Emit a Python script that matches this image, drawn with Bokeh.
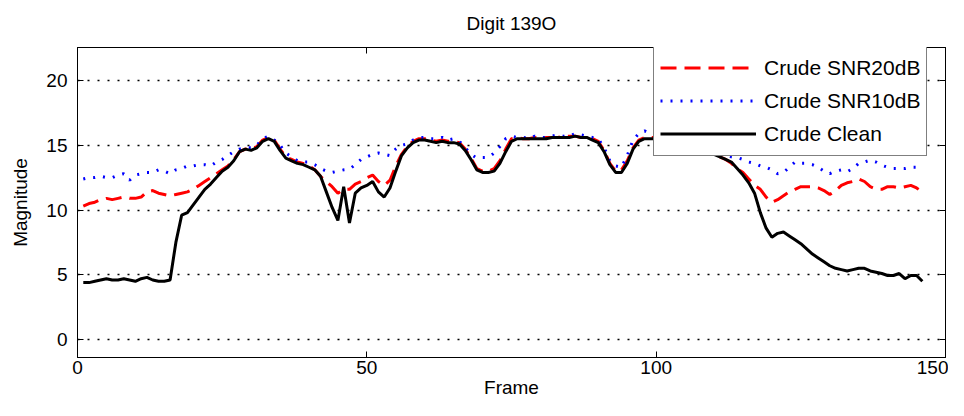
from bokeh.plotting import figure
from bokeh.models import Range1d, LinearAxis, Legend, LegendItem, FixedTicker
from bokeh.embed import file_html
from bokeh.resources import INLINE

title_text = "Digit 139O"
x_label = "Frame"
y_label = "Magnitude"
x_ticks = [0, 50, 100, 150]
y_ticks = [0, 5, 10, 15, 20]
series_names = ["Crude SNR20dB", "Crude SNR10dB", "Crude Clean"]

frames = list(range(1, 147))

snr20 = [
    10.3, 10.5, 10.6, 10.8, 10.9, 10.8, 10.9, 11.0, 10.9, 10.9,
    11.0, 11.4, 11.5, 11.3, 11.2, 11.1, 11.2, 11.3, 11.4, 11.6,
    11.9, 12.2, 12.5, 12.8, 13.1, 13.4, 13.9, 14.5, 14.7, 14.7,
    14.9, 15.4, 15.6, 15.4, 14.7, 14.1, 13.9, 13.7, 13.6, 13.4,
    13.1, 12.6, 12.2, 11.8, 11.3, 11.6, 11.6, 12.0, 12.2, 12.5,
    12.7, 12.2, 11.9, 12.3, 13.4, 14.3, 14.9, 15.3, 15.5, 15.5,
    15.4, 15.3, 15.4, 15.3, 15.3, 15.2, 14.7, 14.0, 13.2, 13.0,
    13.0, 13.2, 13.8, 14.7, 15.5, 15.6, 15.5, 15.5, 15.6, 15.5,
    15.6, 15.6, 15.6, 15.7, 15.7, 15.7, 15.6, 15.6, 15.5, 15.3,
    14.6, 13.6, 13.0, 13.1, 13.8, 14.8, 15.4, 15.6, 15.6, 15.6,
    15.6, 15.5, 15.5, 15.4, 15.3, 15.2, 15.0, 14.7, 14.5, 14.3,
    14.1, 13.9, 13.6, 13.2, 12.9, 12.4, 11.9, 11.6, 11.0, 10.6,
    10.8, 11.1, 11.4, 11.6, 11.8, 11.8, 11.8, 11.7, 11.5, 11.2,
    11.5, 11.9, 12.1, 12.2, 12.4, 12.2, 11.8, 11.6, 11.6, 11.8,
    11.8, 11.7, 11.8, 11.9, 11.7, 11.4,
]

snr10 = [
    12.4, 12.5, 12.5, 12.6, 12.5, 12.5, 12.7, 12.8, 12.3, 12.7,
    12.8, 12.9, 12.9, 13.1, 13.0, 12.8, 13.1, 13.2, 13.4, 13.4,
    13.5, 13.5, 13.4, 13.7, 13.9, 14.2, 14.5, 14.7, 14.8, 14.8,
    15.0, 15.5, 15.7, 15.4, 15.0, 14.4, 14.1, 13.8, 13.7, 13.7,
    13.5, 13.2, 13.0, 12.9, 13.0, 13.1, 13.15, 13.5, 13.9, 14.1,
    14.3, 14.4, 14.3, 14.2, 14.7, 15.0, 15.1, 15.4, 15.6, 15.6,
    15.5, 15.5, 15.6, 15.4, 15.5, 15.3, 14.8, 14.3, 14.0, 14.05,
    14.05, 14.4, 14.9, 15.5, 15.7, 15.6, 15.6, 15.5, 15.7, 15.6,
    15.6, 15.7, 15.8, 15.7, 15.7, 15.9, 15.8, 15.7, 15.6, 15.5,
    14.8, 13.8, 13.4, 13.3, 14.2, 15.4, 15.9, 16.1, 15.9, 15.8,
    15.8, 15.7, 15.6, 15.5, 15.4, 15.2, 15.0, 14.8, 14.6, 14.4,
    14.3, 14.2, 14.1, 14.05, 13.9, 13.7, 13.6, 13.4, 13.3, 13.1,
    12.8, 12.9, 13.3, 13.7, 13.6, 13.6, 13.5, 13.3, 13.0, 12.8,
    13.0, 13.1, 12.95, 13.2, 13.6, 13.7, 13.85, 13.7, 13.45, 13.3,
    13.2, 13.2, 13.2, 13.3, 13.3, 13.2,
]

clean = [
    4.4, 4.4, 4.5, 4.6, 4.7, 4.6, 4.6, 4.7, 4.6, 4.5,
    4.7, 4.8, 4.6, 4.5, 4.5, 4.6, 7.5, 9.6, 9.8, 10.4,
    11.0, 11.6, 12.0, 12.5, 13.0, 13.3, 13.8, 14.5, 14.7, 14.6,
    14.8, 15.3, 15.5, 15.3, 14.6, 14.0, 13.8, 13.6, 13.5, 13.3,
    13.1, 12.6, 11.4, 10.2, 9.2, 11.8, 9.0, 11.3, 11.7, 11.9,
    12.2, 11.4, 11.0, 11.7, 13.0, 14.2, 14.8, 15.2, 15.4, 15.4,
    15.3, 15.2, 15.3, 15.2, 15.2, 15.1, 14.6, 13.9, 13.1, 12.9,
    12.9, 13.0, 13.6, 14.5, 15.3, 15.5, 15.5, 15.5, 15.5, 15.5,
    15.5, 15.6, 15.6, 15.6, 15.6, 15.7, 15.6, 15.6, 15.4, 15.2,
    14.5, 13.5, 12.9, 12.9, 13.6, 14.7, 15.3, 15.5, 15.5, 15.5,
    15.6, 15.6, 15.5, 15.5, 15.4, 15.3, 15.1, 14.9, 14.6, 14.3,
    14.1, 13.9, 13.7, 13.2, 12.7, 12.1, 11.3, 9.8, 8.6, 7.9,
    8.2, 8.3, 8.0, 7.7, 7.4, 7.0, 6.6, 6.3, 6.0, 5.7,
    5.5, 5.4, 5.3, 5.4, 5.5, 5.5, 5.3, 5.2, 5.1, 4.95,
    4.95, 5.1, 4.7, 4.95, 4.95, 4.5,
]

FONT = "Liberation Sans"

p = figure(
    width=948, height=400,
    output_backend="svg", toolbar_location=None,
    x_range=Range1d(0, 150), y_range=Range1d(-1.38, 22.54),
    min_border_left=77, min_border_right=3,
    min_border_top=47, min_border_bottom=35,
    background_fill_color="white", border_fill_color="white",
)

p.title.text = title_text
p.title.align = "center"
p.title.vertical_align = "top"
p.title.text_font = FONT
p.title.text_font_size = "19px"
p.title.text_font_style = "normal"
p.title.text_color = "black"
p.title.standoff = 24

p.outline_line_color = "black"
p.outline_line_width = 1
p.outline_line_alpha = 1

for ax in (p.xaxis[0], p.yaxis[0]):
    ax.major_tick_in = 6
    ax.major_tick_out = 0
    ax.minor_tick_line_color = None
    ax.axis_line_color = "black"
    ax.major_tick_line_color = "black"
    ax.major_label_text_font = FONT
    ax.major_label_text_font_size = "19px"
    ax.major_label_text_color = "black"
    ax.axis_label_text_font = FONT
    ax.axis_label_text_font_size = "19px"
    ax.axis_label_text_font_style = "normal"
    ax.axis_label_text_color = "black"

p.xaxis.ticker = FixedTicker(ticks=x_ticks)
p.yaxis.ticker = FixedTicker(ticks=y_ticks)
p.xaxis.axis_label = x_label
p.yaxis.axis_label = y_label
p.xaxis.major_label_standoff = 3
p.xaxis.axis_label_standoff = 0
p.yaxis.major_label_standoff = 10
p.yaxis.axis_label_standoff = 12

right_ax = LinearAxis(ticker=FixedTicker(ticks=y_ticks), major_tick_in=6, major_tick_out=0,
                      minor_tick_line_color=None, major_label_text_font_size="0px",
                      axis_line_color="black", major_label_standoff=0)
top_ax = LinearAxis(ticker=FixedTicker(ticks=x_ticks), major_tick_in=6, major_tick_out=0,
                    minor_tick_line_color=None, major_label_text_font_size="0px",
                    axis_line_color="black", major_label_standoff=0)
p.add_layout(right_ax, "right")
p.add_layout(top_ax, "above")

p.xgrid.grid_line_color = None
p.ygrid.ticker = FixedTicker(ticks=y_ticks)
p.ygrid.grid_line_color = "black"
p.ygrid.grid_line_dash = "2 8"
p.ygrid.grid_line_width = 1.5

r1 = p.line(frames, snr20, line_color="red", line_width=3, line_dash="16 8")
r2 = p.line(frames, snr10, line_color="blue", line_width=3, line_dash="2 8")
r3 = p.line(frames, clean, line_color="black", line_width=3)

legend = Legend(
    items=[LegendItem(label=series_names[0], renderers=[r1]),
           LegendItem(label=series_names[1], renderers=[r2]),
           LegendItem(label=series_names[2], renderers=[r3])],
    location=(576, 201),
    orientation="vertical",
    glyph_width=96, glyph_height=31, label_height=31,
    label_standoff=8, spacing=2, padding=6, margin=0,
    label_text_font=FONT, label_text_font_size="21px", label_text_color="black",
    border_line_color="black", border_line_width=1.5,
    background_fill_color="white", background_fill_alpha=1,
)
p.add_layout(legend)

open("out.html", "w").write(file_html(p, INLINE))
